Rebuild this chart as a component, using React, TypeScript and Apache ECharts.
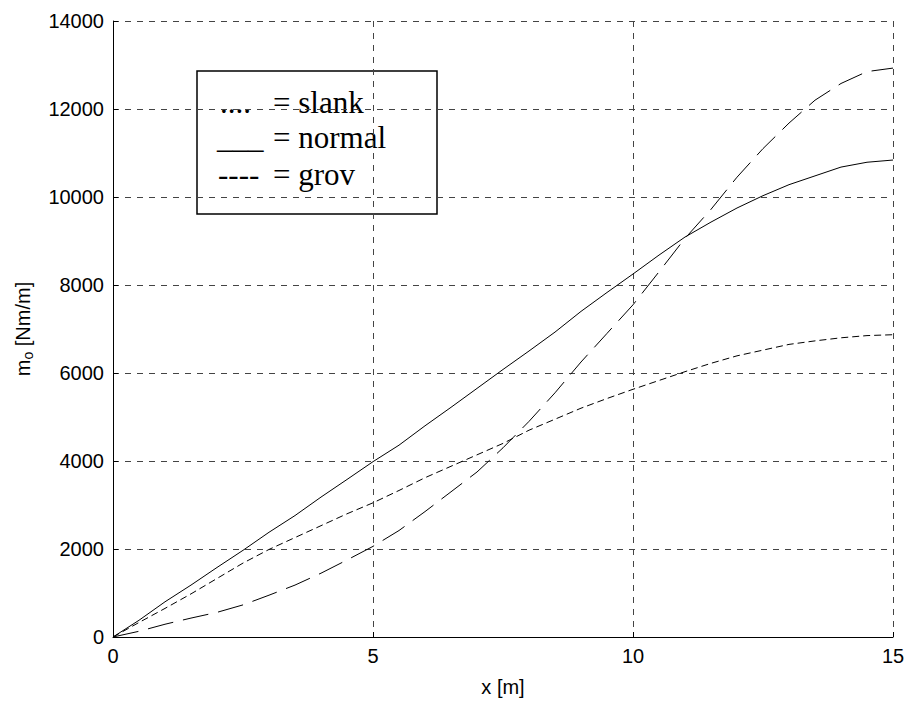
import React, { useEffect, useRef } from "react";
import * as echarts from "echarts";

const xValues = [0, 0.5, 1, 1.5, 2, 2.5, 3, 3.5, 4, 4.5, 5, 5.5, 6, 6.5, 7, 7.5, 8, 8.5, 9, 9.5, 10, 10.5, 11, 11.5, 12, 12.5, 13, 13.5, 14, 14.5, 15];
const slank = [0, 330, 650, 980, 1330, 1680, 1990, 2260, 2530, 2800, 3050, 3330, 3620, 3880, 4140, 4400, 4700, 4950, 5200, 5420, 5630, 5830, 6030, 6220, 6390, 6520, 6650, 6730, 6800, 6850, 6870];
const normal = [0, 380, 800, 1180, 1580, 1970, 2380, 2760, 3180, 3580, 3985, 4360, 4800, 5220, 5650, 6080, 6500, 6930, 7400, 7830, 8250, 8680, 9090, 9430, 9750, 10030, 10280, 10480, 10680, 10790, 10840];
const grov = [0, 130, 290, 430, 560, 730, 950, 1180, 1450, 1750, 2060, 2420, 2850, 3300, 3750, 4300, 4900, 5550, 6250, 6900, 7550, 8300, 9060, 9720, 10450, 11100, 11680, 12200, 12580, 12850, 12930];

const legendSymbols = ["....", "___", "----"];
const legendLabels = ["= slank", "= normal", "= grov"];

const sans = "'Liberation Sans', Arial, sans-serif";
const serif = "'Liberation Serif', 'Times New Roman', serif";

function pairs(ys: number[]) {
  return xValues.map((x, i) => [x, ys[i]]);
}

export default function App() {
  const ref = useRef<HTMLDivElement>(null);
  useEffect(() => {
    if (!ref.current) return;
    const chart = echarts.init(ref.current, null, { renderer: "svg" });
    const line = (name: string, data: number[], type: any) => ({
      name,
      type: "line",
      data: pairs(data),
      showSymbol: false,
      symbol: "none",
      lineStyle: { color: "#000", width: 1, type },
      z: 3,
    });
    const legendY = [102, 137, 174];
    const symX = [220, 217, 218];
    chart.setOption({
      animation: false,
      backgroundColor: "#fff",
      grid: { left: 113, right: 15, top: 21, bottom: 65 },
      xAxis: {
        type: "value",
        min: 0,
        max: 15,
        interval: 5,
        name: "x [m]",
        nameLocation: "middle",
        nameGap: 40,
        nameTextStyle: { fontFamily: sans, fontSize: 20, color: "#000" },
        axisLine: { show: true, lineStyle: { color: "#000", width: 1 } },
        axisTick: { show: true, inside: true, length: 5, lineStyle: { color: "#000" } },
        axisLabel: { fontFamily: sans, fontSize: 20, color: "#000", margin: 9, formatter: (v: number) => String(v) },
        splitLine: { show: true, lineStyle: { color: "#444", width: 1, type: [6, 6] } },
      },
      yAxis: {
        type: "value",
        min: 0,
        max: 14000,
        interval: 2000,
        name: "{a|m}{b|o}{a| [Nm/m]}",
        nameLocation: "middle",
        nameGap: 78,
        nameTextStyle: {
          fontFamily: sans,
          fontSize: 20,
          color: "#000",
          rich: {
            a: { fontFamily: sans, fontSize: 20, color: "#000", lineHeight: 22, verticalAlign: "top" },
            b: { fontFamily: sans, fontSize: 14, color: "#000", lineHeight: 14, verticalAlign: "bottom", padding: [12, 0, 0, 0] },
          },
        },
        axisLine: { show: true, lineStyle: { color: "#000", width: 1 } },
        axisTick: { show: true, inside: true, length: 5, lineStyle: { color: "#000" } },
        axisLabel: { fontFamily: sans, fontSize: 20, color: "#000", margin: 9, formatter: (v: number) => String(v) },
        splitLine: { show: true, lineStyle: { color: "#444", width: 1, type: [6, 6] } },
      },
      series: [
        line("slank", slank, [7, 4]),
        line("normal", normal, "solid"),
        line("grov", grov, [26, 10]),
      ],
      graphic: [
        {
          type: "group",
          z: 100,
          children: [
            {
              type: "rect",
              shape: { x: 197, y: 71, width: 240, height: 143 },
              style: { fill: "#fff", stroke: "#000", lineWidth: 1.5 },
            },
            ...legendSymbols.map((s, i) => ({
              type: "text",
              x: symX[i],
              y: legendY[i],
              style: { text: s, font: `31px ${serif}`, fill: "#000", textAlign: "left", textVerticalAlign: "middle" },
            })),
            ...legendLabels.map((s, i) => ({
              type: "text",
              x: 273,
              y: legendY[i],
              style: { text: s, font: `31px ${serif}`, fill: "#000", textAlign: "left", textVerticalAlign: "middle" },
            })),
          ],
        },
      ],
    });
    return () => chart.dispose();
  }, []);
  return (
    <div
      ref={ref}
      style={{ position: "fixed", left: 0, top: 0, width: 908, height: 702, background: "#fff" }}
    />
  );
}
